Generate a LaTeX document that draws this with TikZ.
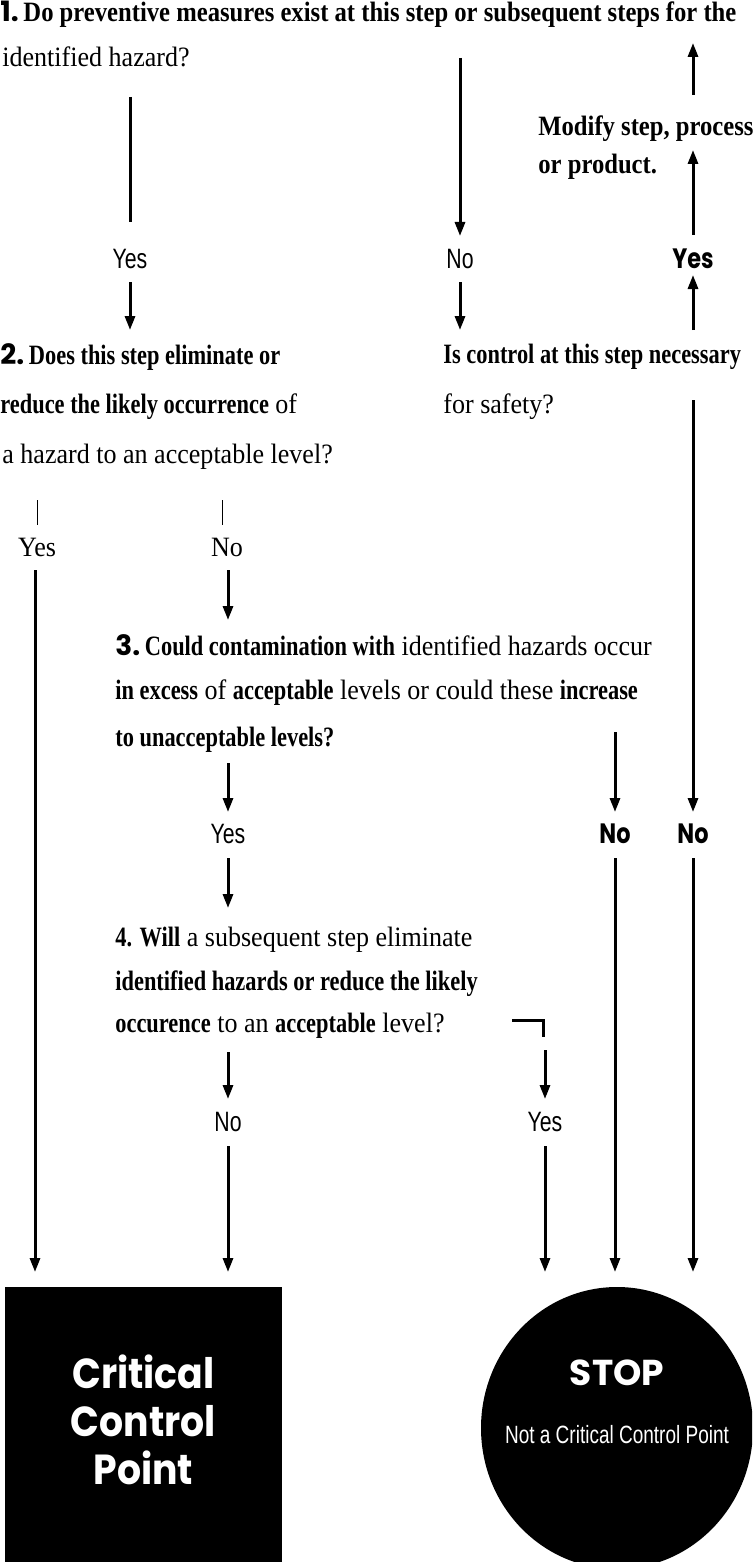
\documentclass[tikz,border=0pt]{standalone}
\usepackage{fontspec}
\setmainfont{Liberation Serif}
\newfontfamily\serifcond[UprightFeatures={FakeStretch=0.93}, BoldFeatures={FakeStretch=0.8}]{Liberation Serif}
\newfontfamily\serifwide[FakeStretch=0.88]{Liberation Serif}
\newfontfamily\sanscond[FakeStretch=0.76]{Liberation Sans}
\newfontfamily\futura{Poppins}
\newfontfamily\futuracond[FakeStretch=0.8]{Poppins}
\newfontfamily\futuraccp[FakeStretch=0.9]{Poppins}
\usepackage{tikz}
\usetikzlibrary{arrows.meta}
\usetikzlibrary{shapes.geometric}
\tikzset{
  linha/.style={anchor=west, inner sep=0pt, font=\serifcond\fontsize{14}{16}\selectfont},
  linhal/.style={anchor=west, inner sep=0pt, font=\serifwide\fontsize{14}{16}\selectfont},
  rotulo/.style={inner sep=0pt, font=\sanscond\fontsize{14}{16}\selectfont},
  rotulob/.style={inner sep=0pt, font=\futuracond\bfseries\fontsize{14}{16}\selectfont},
  rotulos/.style={inner sep=0pt, font=\serifcond\fontsize{14}{16}\selectfont},
  seta/.style={-{Triangle[width=5pt,length=7pt]}, line width=1.5pt},
  traco/.style={line width=1.5pt},
  fino/.style={line width=0.5pt},
}
\newcommand{\num}[1]{{\futura\bfseries #1}\,}

\begin{document}
\begin{tikzpicture}[x=0.5pt, y=-0.5pt]
  \clip (0,0) rectangle (752,1562);

  % pergunta 1
  \node[linhal] (q1a) at (0,14) {\num{1.}\textbf{Do preventive measures exist at this step or subsequent steps for the}};
  \node[linha] (q1b) at (2,57) {identified hazard?};
  \node[linhal] (mod1) at (538,129) {\textbf{Modify step, process}};
  \node[linhal] (mod2) at (538,167) {\textbf{or product.}};

  \node[rotulo] (sim1) at (130,259) {Yes};
  \node[rotulo] (nao1) at (460,259) {No};
  \node[rotulob] (simm) at (693,259) {Yes};

  \coordinate (a1) at (130,97);  \coordinate (a2) at (130,222);
  \coordinate (a3) at (130,282); \coordinate (a4) at (130,330);
  \coordinate (b1) at (460,58);  \coordinate (b2) at (460,236);
  \coordinate (b3) at (460,282); \coordinate (b4) at (460,330);
  \coordinate (m1) at (693,330); \coordinate (m2) at (693,275);
  \coordinate (m3) at (693,235); \coordinate (m4) at (693,150);
  \coordinate (m5) at (693,95);  \coordinate (m6) at (693,43);
  \draw[traco] (a1) -- (a2);
  \draw[seta] (a3) -- (a4);
  \draw[seta] (b1) -- (b2);
  \draw[seta] (b3) -- (b4);
  \draw[seta] (m1) -- (m2);
  \draw[seta] (m3) -- (m4);
  \draw[seta] (m5) -- (m6);

  % pergunta 2
  \node[linha] (q2a) at (0,357) {\num{2.}\textbf{Does this step eliminate or}};
  \node[linha] (q2b) at (0,407) {\textbf{reduce the likely occurrence} of};
  \node[linha] (q2c) at (2,457) {a hazard to an acceptable level?};
  \node[linha] (ctl1) at (443,357) {\textbf{Is control at this step necessary}};
  \node[linha] (ctl2) at (443,407) {for safety?};

  \coordinate (t1) at (37,500);  \coordinate (t2) at (37,525);
  \coordinate (t3) at (222,500); \coordinate (t4) at (222,525);
  \draw[fino] (t1) -- (t2);
  \draw[fino] (t3) -- (t4);
  \node[rotulos] (sim2) at (37,547) {Yes};
  \node[rotulos] (nao2) at (227,547) {No};

  \coordinate (c1) at (35,570);   \coordinate (c2) at (35,1272);
  \coordinate (d1) at (228,570);  \coordinate (d2) at (228,620);
  \coordinate (s1) at (693,400);  \coordinate (s2) at (693,812);
  \draw[seta] (c1) -- (c2);
  \draw[seta] (d1) -- (d2);
  \draw[seta] (s1) -- (s2);

  % pergunta 3
  \node[linha] (q3a) at (115,645) {\num{3.}\textbf{Could contamination with} identified hazards occur};
  \node[linha] (q3b) at (115,693) {\textbf{in excess} of \textbf{acceptable} levels or could these \textbf{increase}};
  \node[linha] (q3c) at (115,740) {\textbf{to unacceptable levels?}};

  \coordinate (e1) at (228,763); \coordinate (e2) at (228,812);
  \coordinate (f1) at (615,732); \coordinate (f2) at (615,812);
  \draw[seta] (e1) -- (e2);
  \draw[seta] (f1) -- (f2);
  \node[rotulo] (sim3) at (228,834) {Yes};
  \node[rotulob] (nao3) at (615,834) {No};
  \node[rotulob] (nao4) at (693,834) {No};

  \coordinate (g1) at (228,858);  \coordinate (g2) at (228,908);
  \coordinate (h1) at (615,858);  \coordinate (h2) at (615,1272);
  \coordinate (k1) at (693,858);  \coordinate (k2) at (693,1272);
  \draw[seta] (g1) -- (g2);
  \draw[seta] (h1) -- (h2);
  \draw[seta] (k1) -- (k2);

  % pergunta 4
  \node[linha] (q4a) at (115,940) {\textbf{4. Will} a subsequent step eliminate};
  \node[linha] (q4b) at (115,984) {\textbf{identified hazards or reduce the likely}};
  \node[linha] (q4c) at (115,1026) {\textbf{occurence} to an \textbf{acceptable} level?};

  \coordinate (q1) at (512,1020); \coordinate (q2) at (543,1020); \coordinate (q3) at (543,1037);
  \draw[traco] (q1) -- (q2) -- (q3);

  \coordinate (n1) at (228,1052); \coordinate (n2) at (228,1099);
  \coordinate (p1) at (545,1050); \coordinate (p2) at (545,1099);
  \draw[seta] (n1) -- (n2);
  \draw[seta] (p1) -- (p2);
  \node[rotulo] (nao5) at (228,1122) {No};
  \node[rotulo] (sim5) at (545,1122) {Yes};

  \coordinate (n3) at (228,1146); \coordinate (n4) at (228,1272);
  \coordinate (p3) at (545,1146); \coordinate (p4) at (545,1272);
  \draw[seta] (n3) -- (n4);
  \draw[seta] (p3) -- (p4);

  % resultados
  \node[fill=black, inner sep=0pt, minimum width=138.5pt, minimum height=142pt] (ccp) at (143.5,1429) {};
  \node[inner sep=0pt, align=center, text=white, font=\futuraccp\bfseries\fontsize{21}{24}\selectfont] (ccpt) at (143.5,1420) {Critical\\Control\\Point};
  \node[ellipse, fill=black, inner sep=0pt, minimum width=136pt, minimum height=141pt] (stop) at (617,1428) {};
  \node[inner sep=0pt, text=white, font=\futura\bfseries\fontsize{18}{20}\selectfont] (stopt) at (617,1373) {STOP};
  \node[inner sep=0pt, text=white, font=\sanscond\fontsize{12.5}{14}\selectfont] (naoccp) at (617,1435) {Not a Critical Control Point};
\end{tikzpicture}
\end{document}
